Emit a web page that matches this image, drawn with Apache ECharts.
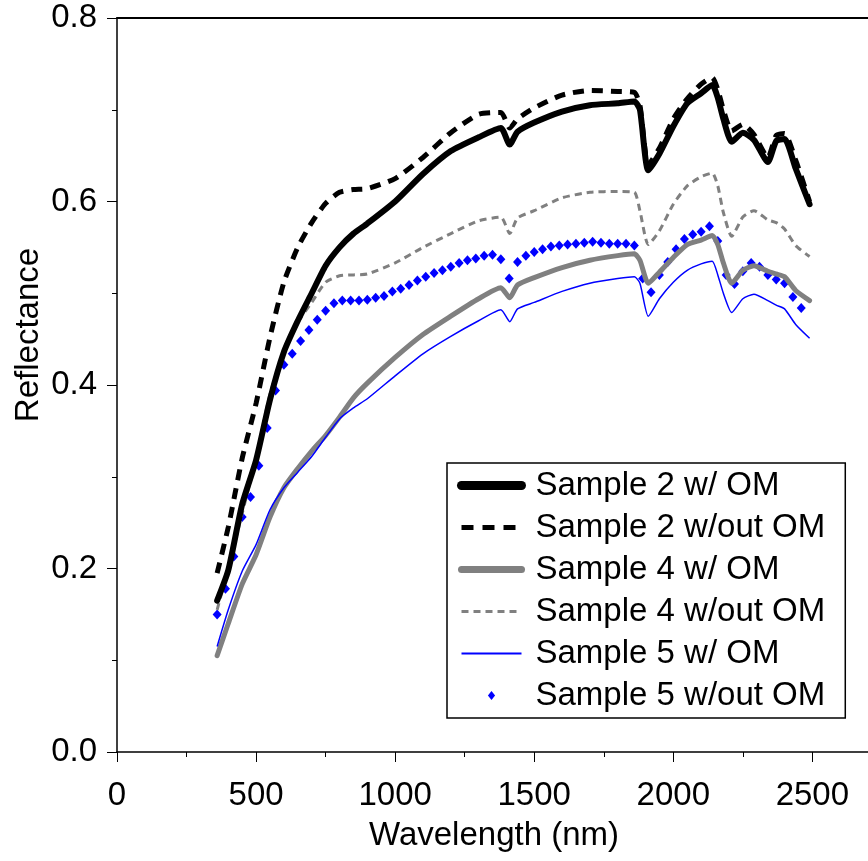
<!DOCTYPE html>
<html>
<head>
<meta charset="utf-8">
<title>Reflectance spectra</title>
<script src="https://cdn.jsdelivr.net/npm/echarts@6.0.0/dist/echarts.min.js"></script>
<style>
    html, body { margin: 0; padding: 0; background: #fff; }
    #chart { width: 868px; height: 861px; }
</style>
</head>
<body>
<div id="chart"></div>
<script>
/* -------------------------------------------------------------------------- */
/*                                   Data                                     */
/* -------------------------------------------------------------------------- */

// wavelength (nm) shared by the five line series
const wavelengths = [
    360, 400, 450, 500, 550, 600, 650, 700, 750, 800, 850, 900, 1000, 1100,
    1200, 1300, 1380, 1412, 1440, 1500, 1600, 1700, 1800, 1860, 1880, 1910,
    1950, 2000, 2050, 2100, 2140, 2160, 2180, 2210, 2250, 2290, 2340, 2370,
    2400, 2440, 2490
];

const sample2WithOM = [
    0.165, 0.198, 0.27, 0.318, 0.384, 0.436, 0.47, 0.5, 0.53, 0.55, 0.565,
    0.576, 0.6, 0.63, 0.655, 0.67, 0.68, 0.662, 0.676, 0.686, 0.698, 0.705,
    0.707, 0.709, 0.7, 0.634, 0.652, 0.682, 0.707, 0.718, 0.727, 0.713, 0.69,
    0.665, 0.675, 0.667, 0.643, 0.666, 0.668, 0.636, 0.597
];

const sample2WithoutOM = [
    0.195, 0.245, 0.32, 0.38, 0.452, 0.512, 0.55, 0.577, 0.598, 0.61, 0.613,
    0.614, 0.625, 0.648, 0.675, 0.695, 0.697, 0.68, 0.69, 0.702, 0.716, 0.721,
    0.72, 0.719, 0.705, 0.64, 0.658, 0.69, 0.712, 0.728, 0.735, 0.722, 0.7,
    0.677, 0.684, 0.673, 0.648, 0.672, 0.674, 0.645, 0.6
];

const sample4WithOM = [
    0.105, 0.14, 0.183, 0.215, 0.256, 0.288, 0.309, 0.328, 0.345, 0.365, 0.386,
    0.402, 0.43, 0.455, 0.475, 0.494, 0.506, 0.495, 0.509, 0.517, 0.528, 0.536,
    0.541, 0.543, 0.536, 0.511, 0.523, 0.539, 0.553, 0.558, 0.563, 0.553, 0.533,
    0.511, 0.525, 0.53, 0.524, 0.521, 0.518, 0.503, 0.492
];

const sample4WithoutOM = [
    0.155, 0.2, 0.26, 0.32, 0.39, 0.435, 0.468, 0.49, 0.512, 0.519, 0.52,
    0.521, 0.533, 0.55, 0.565, 0.579, 0.583, 0.565, 0.582, 0.59, 0.604, 0.61,
    0.611, 0.61, 0.59, 0.553, 0.568, 0.597, 0.617, 0.627, 0.631, 0.617, 0.588,
    0.562, 0.583, 0.59, 0.58, 0.577, 0.57, 0.552, 0.54
];

const sample5WithOM = [
    0.115, 0.155, 0.197, 0.226, 0.264, 0.288, 0.305, 0.322, 0.343, 0.363, 0.375,
    0.385, 0.41, 0.434, 0.453, 0.47, 0.482, 0.469, 0.483, 0.49, 0.502, 0.511,
    0.516, 0.518, 0.511, 0.475, 0.494, 0.512, 0.525, 0.532, 0.535, 0.52, 0.5,
    0.479, 0.494, 0.499, 0.492, 0.487, 0.483, 0.466, 0.451
];

// the diamond series is sampled on its own, coarser grid
const sample5DiamondWavelengths = [
    360, 390, 420, 450, 480, 510, 540, 570, 600, 630, 660, 690, 720, 750, 780,
    810, 840, 870, 900, 930, 960, 990, 1020, 1050, 1080, 1110, 1140, 1170,
    1200, 1230, 1260, 1290, 1320, 1350, 1380, 1410, 1440, 1470, 1500, 1530,
    1560, 1590, 1620, 1650, 1680, 1710, 1740, 1770, 1800, 1830, 1860, 1890,
    1920, 1950, 1980, 2010, 2040, 2070, 2100, 2130, 2160, 2190, 2220, 2250,
    2280, 2310, 2340, 2370, 2400, 2430, 2460
];

const sample5WithoutOM = [
    0.15, 0.178, 0.213, 0.256, 0.278, 0.312, 0.353, 0.394, 0.422, 0.434, 0.448,
    0.46, 0.471, 0.481, 0.489, 0.492, 0.492, 0.492, 0.493, 0.495, 0.497, 0.502,
    0.505, 0.509, 0.514, 0.518, 0.522, 0.525, 0.529, 0.533, 0.536, 0.538, 0.541,
    0.542, 0.537, 0.516, 0.534, 0.541, 0.545, 0.548, 0.551, 0.552, 0.553, 0.554,
    0.555, 0.556, 0.555, 0.554, 0.554, 0.554, 0.552, 0.516, 0.501, 0.52, 0.534,
    0.548, 0.559, 0.564, 0.567, 0.573, 0.557, 0.52, 0.51, 0.524, 0.533, 0.529,
    0.52, 0.515, 0.511, 0.496, 0.484
];

const seriesNames = [
    'Sample 2 w/ OM',
    'Sample 2 w/out OM',
    'Sample 4 w/ OM',
    'Sample 4 w/out OM',
    'Sample 5 w/ OM',
    'Sample 5 w/out OM'
];

/* -------------------------------------------------------------------------- */
/*                                   Chart                                    */
/* -------------------------------------------------------------------------- */

const fontFamily = '"Liberation Sans", Arial, sans-serif';
const fontSize = 33;
const toPairs = (xs, ys) => xs.map((x, i) => [x, ys[i]]);

// small diamond centred in a 60 px wide box, so the legend does not stretch it
const legendDiamond = 'path://M0,5L0,5M26,5L30,0L34,5L30,10ZM60,5L60,5';

const lineSeries = (name, values, lineStyle) => ({
    name,
    type: 'line',
    data: toPairs(wavelengths, values),
    symbol: 'none',
    smooth: 0.2,
    lineStyle
});

const chart = echarts.init(document.getElementById('chart'));

chart.setOption({
    animation: false,
    backgroundColor: '#fff',
    textStyle: { fontFamily },
    grid: {
        left: 117,
        top: 18,
        right: 0,
        bottom: 109,
        containLabel: false,
        outerBoundsMode: 'none'
    },
    xAxis: [
        {
            type: 'value',
            position: 'bottom',
            min: 0,
            max: 2700,
            interval: 500,
            axisLine: { show: true, onZero: false, lineStyle: { color: '#000', width: 1.5 } },
            axisTick: { show: true, length: 10, lineStyle: { color: '#000', width: 1 } },
            axisLabel: {
                formatter: value => String(value),
                showMaxLabel: false,
                fontSize,
                color: '#000',
                margin: 27,
                fontFamily
            },
            splitLine: { show: false }
        },
        {
            // minor ticks every 250 nm
            type: 'value',
            position: 'bottom',
            min: 0,
            max: 2700,
            interval: 250,
            axisLine: { show: false, onZero: false },
            axisTick: { show: true, length: 5, lineStyle: { color: '#000', width: 1 } },
            axisLabel: { show: false },
            splitLine: { show: false }
        },
        {
            // frame line along the top
            type: 'value',
            position: 'top',
            min: 0,
            max: 2700,
            axisLine: { show: true, onZero: false, lineStyle: { color: '#000', width: 2 } },
            axisTick: { show: false },
            axisLabel: { show: false },
            splitLine: { show: false }
        }
    ],
    yAxis: {
        type: 'value',
        min: 0,
        max: 0.8,
        interval: 0.2,
        axisLine: { show: true, onZero: false, lineStyle: { color: '#000', width: 1.5 } },
        axisTick: { show: true, length: 10, lineStyle: { color: '#000', width: 1 } },
        minorTick: { show: true, splitNumber: 2, length: 5, lineStyle: { color: '#000', width: 1 } },
        axisLabel: {
            formatter: value => value.toFixed(1),
            fontSize,
            color: '#000',
            margin: 20,
            fontFamily
        },
        splitLine: { show: false }
    },
    legend: {
        orient: 'vertical',
        left: 447,
        top: 463,
        padding: [6, 20, 6, 10],
        itemWidth: 60,
        itemHeight: 9,
        itemGap: 9,
        borderColor: '#000',
        borderWidth: 1.5,
        borderRadius: 0,
        backgroundColor: '#fff',
        selectedMode: false,
        textStyle: {
            fontSize,
            lineHeight: 32,
            color: '#000',
            fontFamily,
            padding: [0, 0, 0, 9]
        },
        data: [
            { name: seriesNames[0], lineStyle: { width: 9, cap: 'round' }, itemStyle: { opacity: 0 } },
            { name: seriesNames[1], lineStyle: { width: 5, type: [12, 9] }, itemStyle: { opacity: 0 } },
            { name: seriesNames[2], lineStyle: { width: 7, cap: 'round' }, itemStyle: { opacity: 0 } },
            { name: seriesNames[3], lineStyle: { width: 3, type: [7, 5] }, itemStyle: { opacity: 0 } },
            { name: seriesNames[4], lineStyle: { width: 2 }, itemStyle: { opacity: 0 } },
            { name: seriesNames[5], icon: legendDiamond }
        ]
    },
    graphic: [
        {
            type: 'text',
            x: 29,
            y: 335,
            rotation: Math.PI / 2,
            style: {
                text: 'Reflectance',
                fontSize,
                fontFamily,
                fill: '#000',
                align: 'center',
                verticalAlign: 'middle'
            }
        },
        {
            type: 'text',
            x: 494,
            y: 836,
            style: {
                text: 'Wavelength (nm)',
                fontSize,
                fontFamily,
                fill: '#000',
                align: 'center',
                verticalAlign: 'middle'
            }
        }
    ],
    series: [
        lineSeries(seriesNames[3], sample4WithoutOM, { color: '#808080', width: 3, type: [7, 5] }),
        lineSeries(seriesNames[2], sample4WithOM, { color: '#808080', width: 5, cap: 'round' }),
        lineSeries(seriesNames[4], sample5WithOM, { color: '#0000ff', width: 1.5 }),
        {
            name: seriesNames[5],
            type: 'scatter',
            data: toPairs(sample5DiamondWavelengths, sample5WithoutOM),
            symbol: 'diamond',
            symbolSize: [9, 10],
            itemStyle: { color: '#0000ff', opacity: 1 }
        },
        lineSeries(seriesNames[1], sample2WithoutOM, { color: '#000', width: 5, type: [11, 8] }),
        lineSeries(seriesNames[0], sample2WithOM, { color: '#000', width: 6, cap: 'round', join: 'round' })
    ]
});
</script>
</body>
</html>
